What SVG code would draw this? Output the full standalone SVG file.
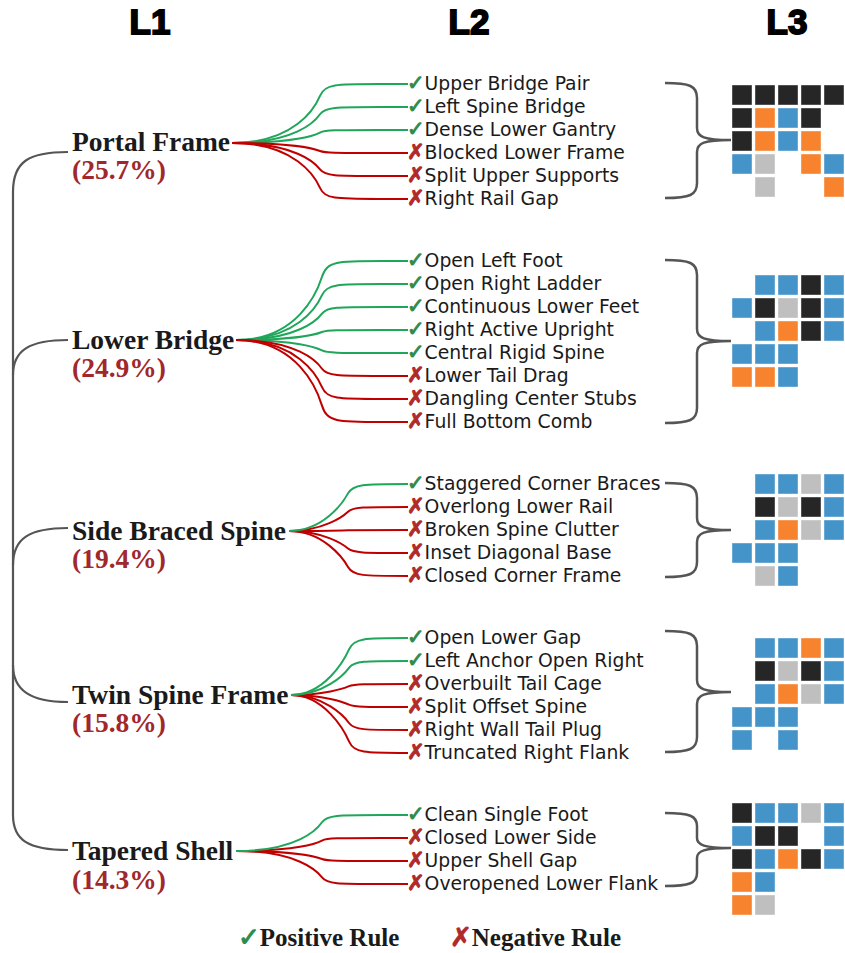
<svg xmlns="http://www.w3.org/2000/svg" width="845" height="953" viewBox="0 0 845 953">
<style>
.hdr{font-family:"Liberation Sans",Arial,sans-serif;font-weight:bold;font-size:35px;fill:#000;stroke:#000;stroke-width:1.8;text-anchor:middle}
.l1{font-family:"Liberation Serif","Times New Roman",serif;font-weight:bold;font-size:27.5px;fill:#1a1a1a}
.pct{font-family:"Liberation Serif","Times New Roman",serif;font-weight:bold;font-size:27.5px;fill:#A0282C}
.l2{font-family:"Comic Sans MS","DejaVu Sans",sans-serif;font-size:18.8px;fill:#1a1a1a}
.ck{fill:#2E8B4A;stroke:#2E8B4A;stroke-width:1;font-size:21px}
.cx{fill:#B02A2A;stroke:#B02A2A;stroke-width:1;font-size:21px}
.leg{font-family:"Liberation Serif","Times New Roman",serif;font-weight:bold;font-size:25px;fill:#1a1a1a}
.sym{font-family:"DejaVu Sans",sans-serif;font-weight:normal;font-size:26px}
.pos{fill:none;stroke:#1FA65A;stroke-width:2}
.neg{fill:none;stroke:#C00000;stroke-width:2}
.tree{fill:none;stroke:#555;stroke-width:2.2}
.brace{fill:none;stroke:#555;stroke-width:2.5}
.k{fill:#262626}.o{fill:#F7832F}.b{fill:#4494C9}.g{fill:#BFBFBF}
rect{stroke:#fff;stroke-opacity:0.5;stroke-width:0.8}
</style>

<g id="headers">
<text class="hdr" x="150" y="34">L1</text>
<text class="hdr" x="469" y="34">L2</text>
<text class="hdr" x="787" y="34">L3</text>
</g>

<g id="connectors">
<path class="tree" d="M68,152 C28,152 13,162 13,192 L13,815 C13,840 28,850 68,850"/>
<path class="tree" d="M68,340 C30,340 13,350 13,375"/>
<path class="tree" d="M68,528 C30,528 13,538 13,565"/>
<path class="tree" d="M13,665 C13,690 30,702 68,702"/>

<path class="pos" d="M232,143 C295,143 315,107.6 320,95.8 S335,84 380,84 L408,84"/>
<path class="pos" d="M232,143 C295,143 315,121.4 320,114.2 S335,107 380,107 L408,107"/>
<path class="pos" d="M232,143 C295,143 315,135.2 320,132.6 S335,130 380,130 L408,130"/>
<path class="neg" d="M232,143 C295,143 315,149 320,151 S335,153 380,153 L408,153"/>
<path class="neg" d="M232,143 C295,143 315,162.8 320,169.4 S335,176 380,176 L408,176"/>
<path class="neg" d="M232,143 C295,143 315,176.6 320,187.8 S335,199 380,199 L408,199"/>

<path class="pos" d="M236,340 C297,340 317,292.6 322,276.8 S337,261 382,261 L408,261"/>
<path class="pos" d="M236,340 C297,340 317,306.4 322,295.2 S337,284 382,284 L408,284"/>
<path class="pos" d="M236,340 C297,340 317,320.2 322,313.6 S337,307 382,307 L408,307"/>
<path class="pos" d="M236,340 C297,340 317,334 322,332 S337,330 382,330 L408,330"/>
<path class="pos" d="M236,340 C297,340 317,347.8 322,350.4 S337,353 382,353 L408,353"/>
<path class="neg" d="M236,340 C297,340 317,361.6 322,368.8 S337,376 382,376 L408,376"/>
<path class="neg" d="M236,340 C297,340 317,375.4 322,387.2 S337,399 382,399 L408,399"/>
<path class="neg" d="M236,340 C297,340 317,389.2 322,405.6 S337,422 382,422 L408,422"/>

<path class="neg" d="M289,531 C323,531 343,516.6 348,511.8 S363,507 408,507"/>
<path class="neg" d="M289,531 C323,531 343,530.4 348,530.2 S363,530 408,530"/>
<path class="neg" d="M289,531 C323,531 343,544.2 348,548.6 S363,553 408,553"/>
<path class="neg" d="M289,531 C323,531 343,558 348,567 S363,576 408,576"/>
<path class="pos" d="M289,531 C323,531 343,502.8 348,493.4 S363,484 408,484"/>

<path class="neg" d="M291,695 C324,695 344,688.4 349,686.2 S364,684 408,684"/>
<path class="neg" d="M291,695 C324,695 344,702.2 349,704.6 S364,707 408,707"/>
<path class="neg" d="M291,695 C324,695 344,716 349,723 S364,730 408,730"/>
<path class="neg" d="M291,695 C324,695 344,729.8 349,741.4 S364,753 408,753"/>
<path class="pos" d="M291,695 C324,695 344,660.8 349,649.4 S364,638 408,638"/>
<path class="pos" d="M291,695 C324,695 344,674.6 349,667.8 S364,661 408,661"/>

<path class="neg" d="M236,851 C297,851 317,843.2 322,840.6 S337,838 382,838 L408,838"/>
<path class="neg" d="M236,851 C297,851 317,857 322,859 S337,861 382,861 L408,861"/>
<path class="neg" d="M236,851 C297,851 317,870.8 322,877.4 S337,884 382,884 L408,884"/>
<path class="pos" d="M236,851 C297,851 317,829.4 322,822.2 S337,815 382,815 L408,815"/>

<path class="brace" d="M665,83 C690,83 697,86 697,98 L697,128 C697,137 704,140 731,140 C704,140 697,143 697,152 L697,183 C697,195 690,198 665,198"/>
<path class="brace" d="M665,260 C690,260 697,263 697,275 L697,329 C697,338 704,341 731,341 C704,341 697,344 697,353 L697,408 C697,420 690,423 665,423"/>
<path class="brace" d="M665,483 C690,483 697,486 697,498 L697,518 C697,527 704,530 731,530 C704,530 697,533 697,542 L697,562 C697,574 690,577 665,577"/>
<path class="brace" d="M665,631 C690,631 697,634 697,646 L697,680 C697,689 704,692 731,692 C704,692 697,695 697,704 L697,737 C697,749 690,752 665,752"/>
<path class="brace" d="M665,813 C690,813 697,816 697,826 L697,838 C697,845 704,848 731,848 C704,848 697,851 697,858 L697,873 C697,883 690,886 665,886"/>
</g>

<g id="n-portal-frame"><text class="l1" x="72" y="151">Portal Frame</text><text class="pct" x="72" y="179">(25.7%)</text></g>
<g id="n-lower-bridge"><text class="l1" x="72" y="349">Lower Bridge</text><text class="pct" x="72" y="377">(24.9%)</text></g>
<g id="n-side-braced-spine"><text class="l1" x="72" y="540">Side Braced Spine</text><text class="pct" x="72" y="568">(19.4%)</text></g>
<g id="n-twin-spine-frame"><text class="l1" x="72" y="704">Twin Spine Frame</text><text class="pct" x="72" y="732">(15.8%)</text></g>
<g id="n-tapered-shell"><text class="l1" x="72" y="860">Tapered Shell</text><text class="pct" x="72" y="889">(14.3%)</text></g>

<g id="leaves-portal-frame">
<g id="r-upper-bridge-pair"><text class="l2" x="407" y="90"><tspan class="ck">✓</tspan>Upper Bridge Pair</text></g>
<g id="r-left-spine-bridge"><text class="l2" x="407" y="113"><tspan class="ck">✓</tspan>Left Spine Bridge</text></g>
<g id="r-dense-lower-gantry"><text class="l2" x="407" y="136"><tspan class="ck">✓</tspan>Dense Lower Gantry</text></g>
<g id="r-blocked-lower-frame"><text class="l2" x="407" y="159"><tspan class="cx">✗</tspan>Blocked Lower Frame</text></g>
<g id="r-split-upper-supports"><text class="l2" x="407" y="182"><tspan class="cx">✗</tspan>Split Upper Supports</text></g>
<g id="r-right-rail-gap"><text class="l2" x="407" y="205"><tspan class="cx">✗</tspan>Right Rail Gap</text></g>
</g>
<g id="leaves-lower-bridge">
<g id="r-open-left-foot"><text class="l2" x="407" y="267"><tspan class="ck">✓</tspan>Open Left Foot</text></g>
<g id="r-open-right-ladder"><text class="l2" x="407" y="290"><tspan class="ck">✓</tspan>Open Right Ladder</text></g>
<g id="r-continuous-lower-feet"><text class="l2" x="407" y="313"><tspan class="ck">✓</tspan>Continuous Lower Feet</text></g>
<g id="r-right-active-upright"><text class="l2" x="407" y="336"><tspan class="ck">✓</tspan>Right Active Upright</text></g>
<g id="r-central-rigid-spine"><text class="l2" x="407" y="359"><tspan class="ck">✓</tspan>Central Rigid Spine</text></g>
<g id="r-lower-tail-drag"><text class="l2" x="407" y="382"><tspan class="cx">✗</tspan>Lower Tail Drag</text></g>
<g id="r-dangling-center-stubs"><text class="l2" x="407" y="405"><tspan class="cx">✗</tspan>Dangling Center Stubs</text></g>
<g id="r-full-bottom-comb"><text class="l2" x="407" y="428"><tspan class="cx">✗</tspan>Full Bottom Comb</text></g>
</g>
<g id="leaves-side-braced-spine">
<g id="r-staggered-corner-braces"><text class="l2" x="407" y="490"><tspan class="ck">✓</tspan>Staggered Corner Braces</text></g>
<g id="r-overlong-lower-rail"><text class="l2" x="407" y="513"><tspan class="cx">✗</tspan>Overlong Lower Rail</text></g>
<g id="r-broken-spine-clutter"><text class="l2" x="407" y="536"><tspan class="cx">✗</tspan>Broken Spine Clutter</text></g>
<g id="r-inset-diagonal-base"><text class="l2" x="407" y="559"><tspan class="cx">✗</tspan>Inset Diagonal Base</text></g>
<g id="r-closed-corner-frame"><text class="l2" x="407" y="582"><tspan class="cx">✗</tspan>Closed Corner Frame</text></g>
</g>
<g id="leaves-twin-spine-frame">
<g id="r-open-lower-gap"><text class="l2" x="407" y="644"><tspan class="ck">✓</tspan>Open Lower Gap</text></g>
<g id="r-left-anchor-open-right"><text class="l2" x="407" y="667"><tspan class="ck">✓</tspan>Left Anchor Open Right</text></g>
<g id="r-overbuilt-tail-cage"><text class="l2" x="407" y="690"><tspan class="cx">✗</tspan>Overbuilt Tail Cage</text></g>
<g id="r-split-offset-spine"><text class="l2" x="407" y="713"><tspan class="cx">✗</tspan>Split Offset Spine</text></g>
<g id="r-right-wall-tail-plug"><text class="l2" x="407" y="736"><tspan class="cx">✗</tspan>Right Wall Tail Plug</text></g>
<g id="r-truncated-right-flank"><text class="l2" x="407" y="759"><tspan class="cx">✗</tspan>Truncated Right Flank</text></g>
</g>
<g id="leaves-tapered-shell">
<g id="r-clean-single-foot"><text class="l2" x="407" y="821"><tspan class="ck">✓</tspan>Clean Single Foot</text></g>
<g id="r-closed-lower-side"><text class="l2" x="407" y="844"><tspan class="cx">✗</tspan>Closed Lower Side</text></g>
<g id="r-upper-shell-gap"><text class="l2" x="407" y="867"><tspan class="cx">✗</tspan>Upper Shell Gap</text></g>
<g id="r-overopened-lower-flank"><text class="l2" x="407" y="890"><tspan class="cx">✗</tspan>Overopened Lower Flank</text></g>
</g>

<g id="grid-portal-frame">
<rect class="k" x="732" y="85" width="20" height="20"/><rect class="k" x="755" y="85" width="20" height="20"/><rect class="k" x="778" y="85" width="20" height="20"/><rect class="k" x="801" y="85" width="20" height="20"/><rect class="k" x="824" y="85" width="20" height="20"/>
<rect class="k" x="732" y="108" width="20" height="20"/><rect class="o" x="755" y="108" width="20" height="20"/><rect class="b" x="778" y="108" width="20" height="20"/><rect class="k" x="801" y="108" width="20" height="20"/>
<rect class="k" x="732" y="131" width="20" height="20"/><rect class="o" x="755" y="131" width="20" height="20"/><rect class="b" x="778" y="131" width="20" height="20"/><rect class="o" x="801" y="131" width="20" height="20"/>
<rect class="b" x="732" y="154" width="20" height="20"/><rect class="g" x="755" y="154" width="20" height="20"/><rect class="o" x="801" y="154" width="20" height="20"/><rect class="b" x="824" y="154" width="20" height="20"/>
<rect class="g" x="755" y="177" width="20" height="20"/><rect class="o" x="824" y="177" width="20" height="20"/>
</g>
<g id="grid-lower-bridge">
<rect class="b" x="755" y="275" width="20" height="20"/><rect class="b" x="778" y="275" width="20" height="20"/><rect class="k" x="801" y="275" width="20" height="20"/><rect class="b" x="824" y="275" width="20" height="20"/>
<rect class="b" x="732" y="298" width="20" height="20"/><rect class="k" x="755" y="298" width="20" height="20"/><rect class="g" x="778" y="298" width="20" height="20"/><rect class="k" x="801" y="298" width="20" height="20"/><rect class="b" x="824" y="298" width="20" height="20"/>
<rect class="b" x="755" y="321" width="20" height="20"/><rect class="o" x="778" y="321" width="20" height="20"/><rect class="k" x="801" y="321" width="20" height="20"/><rect class="b" x="824" y="321" width="20" height="20"/>
<rect class="b" x="732" y="344" width="20" height="20"/><rect class="b" x="755" y="344" width="20" height="20"/><rect class="b" x="778" y="344" width="20" height="20"/>
<rect class="o" x="732" y="367" width="20" height="20"/><rect class="o" x="755" y="367" width="20" height="20"/><rect class="b" x="778" y="367" width="20" height="20"/>
</g>
<g id="grid-side-braced-spine">
<rect class="b" x="755" y="474" width="20" height="20"/><rect class="b" x="778" y="474" width="20" height="20"/><rect class="g" x="801" y="474" width="20" height="20"/><rect class="b" x="824" y="474" width="20" height="20"/>
<rect class="k" x="755" y="497" width="20" height="20"/><rect class="g" x="778" y="497" width="20" height="20"/><rect class="k" x="801" y="497" width="20" height="20"/><rect class="b" x="824" y="497" width="20" height="20"/>
<rect class="b" x="755" y="520" width="20" height="20"/><rect class="o" x="778" y="520" width="20" height="20"/><rect class="g" x="801" y="520" width="20" height="20"/><rect class="b" x="824" y="520" width="20" height="20"/>
<rect class="b" x="732" y="543" width="20" height="20"/><rect class="b" x="755" y="543" width="20" height="20"/><rect class="b" x="778" y="543" width="20" height="20"/>
<rect class="g" x="755" y="566" width="20" height="20"/><rect class="b" x="778" y="566" width="20" height="20"/>
</g>
<g id="grid-twin-spine-frame">
<rect class="b" x="755" y="638" width="20" height="20"/><rect class="b" x="778" y="638" width="20" height="20"/><rect class="o" x="801" y="638" width="20" height="20"/><rect class="b" x="824" y="638" width="20" height="20"/>
<rect class="k" x="755" y="661" width="20" height="20"/><rect class="g" x="778" y="661" width="20" height="20"/><rect class="k" x="801" y="661" width="20" height="20"/><rect class="b" x="824" y="661" width="20" height="20"/>
<rect class="b" x="755" y="684" width="20" height="20"/><rect class="o" x="778" y="684" width="20" height="20"/><rect class="g" x="801" y="684" width="20" height="20"/><rect class="b" x="824" y="684" width="20" height="20"/>
<rect class="b" x="732" y="707" width="20" height="20"/><rect class="b" x="755" y="707" width="20" height="20"/><rect class="b" x="778" y="707" width="20" height="20"/>
<rect class="b" x="732" y="730" width="20" height="20"/><rect class="b" x="778" y="730" width="20" height="20"/>
</g>
<g id="grid-tapered-shell">
<rect class="k" x="732" y="803" width="20" height="20"/><rect class="b" x="755" y="803" width="20" height="20"/><rect class="b" x="778" y="803" width="20" height="20"/><rect class="g" x="801" y="803" width="20" height="20"/><rect class="b" x="824" y="803" width="20" height="20"/>
<rect class="b" x="732" y="826" width="20" height="20"/><rect class="k" x="755" y="826" width="20" height="20"/><rect class="k" x="778" y="826" width="20" height="20"/><rect class="b" x="824" y="826" width="20" height="20"/>
<rect class="k" x="732" y="849" width="20" height="20"/><rect class="b" x="755" y="849" width="20" height="20"/><rect class="o" x="778" y="849" width="20" height="20"/><rect class="k" x="801" y="849" width="20" height="20"/><rect class="b" x="824" y="849" width="20" height="20"/>
<rect class="o" x="732" y="872" width="20" height="20"/><rect class="b" x="755" y="872" width="20" height="20"/>
<rect class="o" x="732" y="895" width="20" height="20"/><rect class="g" x="755" y="895" width="20" height="20"/>
</g>

<g id="legend">
<text class="leg" x="238" y="946"><tspan class="sym ck">✓</tspan>Positive Rule</text>
<text class="leg" x="450" y="946"><tspan class="sym cx">✗</tspan>Negative Rule</text>
</g>
</svg>
